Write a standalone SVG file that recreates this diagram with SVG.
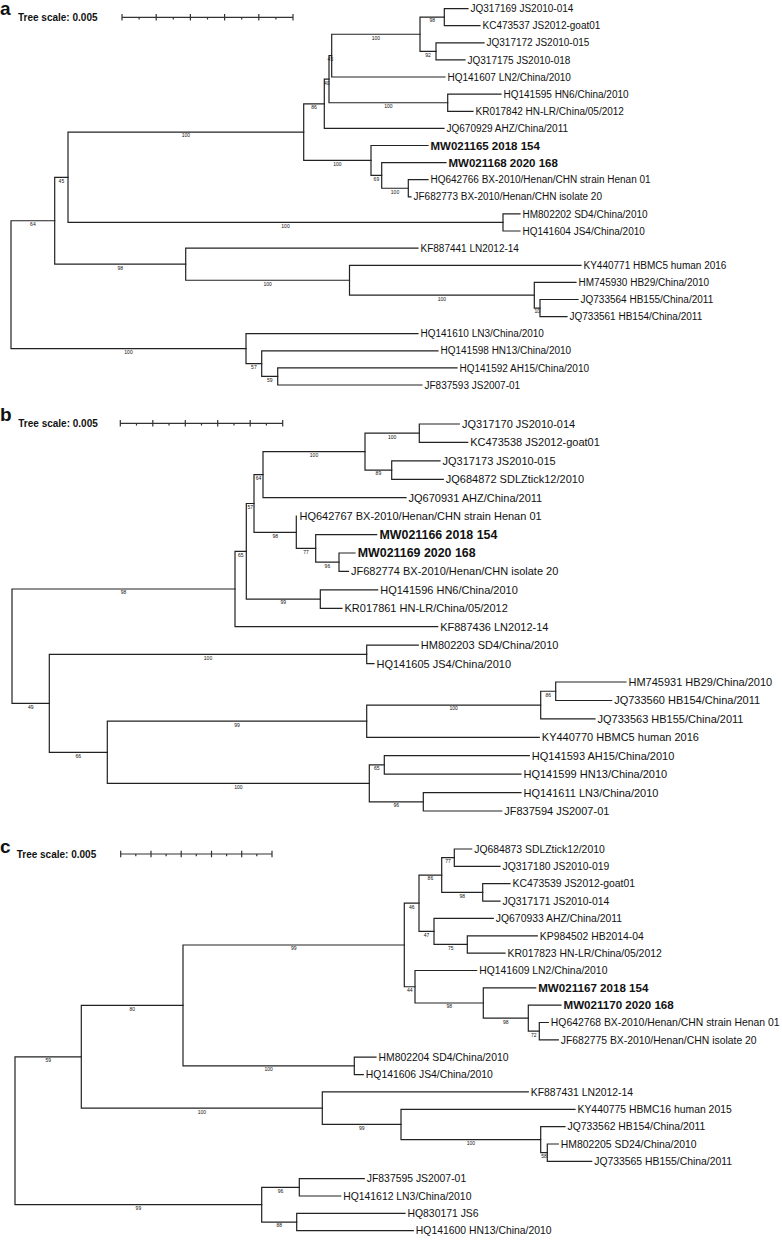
<svg xmlns="http://www.w3.org/2000/svg" width="782" height="1240" viewBox="0 0 782 1240">
<style>
.br{fill:none;stroke:#222;stroke-width:1.2;stroke-linecap:square}
.sc{fill:none;stroke:#333;stroke-width:1.2}
text{font-family:"Liberation Sans",Arial,sans-serif;fill:#111}
.pl{font-size:19px;font-weight:bold}
.ts{font-size:10px;font-weight:bold}
.bs{font-size:5px;text-anchor:middle;fill:#222}
.a{font-size:10px}.ab{font-size:11.5px;font-weight:bold}
.b{font-size:11px}.bb{font-size:12.4px;font-weight:bold}
.c{font-size:10.4px}.cb{font-size:11.6px;font-weight:bold}
</style>
<rect width="782" height="1240" fill="#fff"/>

<!-- PANEL A -->
<g id="panel-a">
<text class="pl" x="0" y="15.3">a</text>
<text class="ts" x="18" y="21">Tree scale: 0.005</text>
<path class="sc" d="M122,17.3 H293 M122,14 V20.6 M156.2,14 V20.6 M190.4,14 V20.6 M224.6,14 V20.6 M258.8,14 V20.6 M293,14 V20.6 M139.1,17.3 V19.6 M173.3,17.3 V19.6 M207.5,17.3 V19.6 M241.7,17.3 V19.6 M275.9,17.3 V19.6"/>
<g id="connectors-a" class="br">
<path d="M468,8.6 H444.3 V25.7 H480"/>
<path d="M484,42.8 H436 V59.9 H465"/>
<path d="M444.3,17.15 H420 V51.35 H436"/>
<path d="M420,34.25 H331.7 V77 H445"/>
<path d="M501,94.2 H447.7 V111.3 H473"/>
<path d="M331.7,55.6 H329 V102.75 H447.7"/>
<path d="M329,79.2 H324.3 V128.4 H444"/>
<path d="M428,179.7 H408.3 V196.8 H411"/>
<path d="M446,162.6 H381.7 V188.25 H408.3"/>
<path d="M428,145.5 H371 V175.4 H381.7"/>
<path d="M324.3,103.8 H303.7 V160.45 H371"/>
<path d="M520,213.9 H503 V231 H520"/>
<path d="M303.7,132.1 H68 V222.45 H503"/>
<path d="M578,299.5 H540 V316.6 H567"/>
<path d="M576,282.4 H534.3 V308.05 H540"/>
<path d="M581,265.3 H349.5 V295.2 H534.3"/>
<path d="M418,248.1 H185.7 V280.25 H349.5"/>
<path d="M68,177.3 H54.7 V264.2 H185.7"/>
<path d="M457,367.9 H277.7 V385 H422"/>
<path d="M438,350.8 H261.7 V376.45 H277.7"/>
<path d="M418,333.7 H246 V363.6 H261.7"/>
<path d="M54.7,220.75 H11 V348.65 H246"/>
</g>
<g id="support-a" class="bs">
<text x="432.2" y="22.4">98</text>
<text x="428" y="56.6">92</text>
<text x="375.9" y="39.5">100</text>
<text x="330.4" y="60.9">45</text>
<text x="388.4" y="108">100</text>
<text x="326.7" y="84.5">40</text>
<text x="314" y="109.1">86</text>
<text x="395" y="193.5">100</text>
<text x="376.4" y="180.7">69</text>
<text x="337.4" y="165.7">100</text>
<text x="185.9" y="137.4">100</text>
<text x="285.5" y="227.7">100</text>
<text x="61.4" y="182.6">45</text>
<text x="537.2" y="313.3">10</text>
<text x="441.9" y="300.5">100</text>
<text x="267.6" y="285.5">100</text>
<text x="120.2" y="269.5">98</text>
<text x="32.9" y="226">64</text>
<text x="269.7" y="381.7">59</text>
<text x="253.9" y="368.9">57</text>
<text x="128.5" y="353.9">100</text>
</g>
<g id="leaf-a1"><text class="a" x="470.5" y="12.2">JQ317169 JS2010-014</text></g>
<g id="leaf-a2"><text class="a" x="482.5" y="29.3">KC473537 JS2012-goat01</text></g>
<g id="leaf-a3"><text class="a" x="486.5" y="46.4">JQ317172 JS2010-015</text></g>
<g id="leaf-a4"><text class="a" x="467.5" y="63.5">JQ317175 JS2010-018</text></g>
<g id="leaf-a5"><text class="a" x="447.5" y="80.6">HQ141607 LN2/China/2010</text></g>
<g id="leaf-a6"><text class="a" x="503.5" y="97.8">HQ141595 HN6/China/2010</text></g>
<g id="leaf-a7"><text class="a" x="475.5" y="114.9">KR017842 HN-LR/China/05/2012</text></g>
<g id="leaf-a8"><text class="a" x="446.5" y="132">JQ670929 AHZ/China/2011</text></g>
<g id="leaf-a9"><text class="ab" x="430.5" y="149.6">MW021165 2018 154</text></g>
<g id="leaf-a10"><text class="ab" x="448.5" y="166.7">MW021168 2020 168</text></g>
<g id="leaf-a11"><text class="a" x="430.5" y="183.3">HQ642766 BX-2010/Henan/CHN strain Henan 01</text></g>
<g id="leaf-a12"><text class="a" x="413.5" y="200.4">JF682773 BX-2010/Henan/CHN isolate 20</text></g>
<g id="leaf-a13"><text class="a" x="522.5" y="217.5">HM802202 SD4/China/2010</text></g>
<g id="leaf-a14"><text class="a" x="522.5" y="234.6">HQ141604 JS4/China/2010</text></g>
<g id="leaf-a15"><text class="a" x="420.5" y="251.7">KF887441 LN2012-14</text></g>
<g id="leaf-a16"><text class="a" x="583.5" y="268.9">KY440771 HBMC5 human 2016</text></g>
<g id="leaf-a17"><text class="a" x="578.5" y="286">HM745930 HB29/China/2010</text></g>
<g id="leaf-a18"><text class="a" x="580.5" y="303.1">JQ733564 HB155/China/2011</text></g>
<g id="leaf-a19"><text class="a" x="569.5" y="320.2">JQ733561 HB154/China/2011</text></g>
<g id="leaf-a20"><text class="a" x="420.5" y="337.3">HQ141610 LN3/China/2010</text></g>
<g id="leaf-a21"><text class="a" x="440.5" y="354.4">HQ141598 HN13/China/2010</text></g>
<g id="leaf-a22"><text class="a" x="459.5" y="371.5">HQ141592 AH15/China/2010</text></g>
<g id="leaf-a23"><text class="a" x="424.5" y="388.6">JF837593 JS2007-01</text></g>
</g>

<!-- PANEL B -->
<g id="panel-b">
<text class="pl" x="0" y="420.7">b</text>
<text class="ts" x="18.3" y="427">Tree scale: 0.005</text>
<path class="sc" d="M120.3,423.3 H282.7 M120.3,420 V426.6 M152.8,420 V426.6 M185.3,420 V426.6 M217.7,420 V426.6 M250.2,420 V426.6 M282.7,420 V426.6 M136.5,423.3 V425.6 M169,423.3 V425.6 M201.5,423.3 V425.6 M234,423.3 V425.6 M266.4,423.3 V425.6"/>
<g id="connectors-b" class="br">
<path d="M459.3,424 H419.3 V442.4 H467.7"/>
<path d="M440,460.9 H391.7 V479.3 H443.3"/>
<path d="M419.3,433.2 H365 V470.1 H391.7"/>
<path d="M365,451.65 H263 V497.7 H406"/>
<path d="M355,553 H339 V571.4 H348.5"/>
<path d="M376.7,534.6 H315.7 V562.2 H339"/>
<path d="M296.3,516.2 V548.4 H315.7"/>
<path d="M263,474.7 H254 V532.3 H296.3"/>
<path d="M377.7,589.9 H320.3 V608.3 H342"/>
<path d="M254,503.5 H246.3 V599.1 H320.3"/>
<path d="M246.3,551.3 H235 V626.7 H437.7"/>
<path d="M418.3,645.2 H366.7 V663.6 H374"/>
<path d="M626,682 H555.7 V700.5 H611.7"/>
<path d="M555.7,691.25 H540.7 V718.9 H595"/>
<path d="M540.7,705.1 H366.7 V737.3 H539.3"/>
<path d="M529.3,755.7 H384.3 V774.2 H521"/>
<path d="M521,792.6 H423.3 V811 H501.7"/>
<path d="M384.3,764.95 H369.3 V801.8 H423.3"/>
<path d="M366.7,721.2 H107.3 V783.4 H369.3"/>
<path d="M366.7,654.4 H49.3 V752.3 H107.3"/>
<path d="M235,589 H12 V703.35 H49.3"/>
</g>
<g id="support-b" class="bs">
<text x="392.2" y="438.5">100</text>
<text x="378.4" y="475.4">89</text>
<text x="314" y="457">100</text>
<text x="258.5" y="480">64</text>
<text x="327.4" y="567.5">96</text>
<text x="306" y="553.7">77</text>
<text x="275.2" y="537.6">98</text>
<text x="250.2" y="508.8">57</text>
<text x="283.3" y="604.4">99</text>
<text x="240.7" y="556.6">65</text>
<text x="123.5" y="594.3">98</text>
<text x="208" y="659.7">100</text>
<text x="548.2" y="696.5">86</text>
<text x="453.7" y="710.4">100</text>
<text x="237" y="726.5">99</text>
<text x="376.8" y="770.2">65</text>
<text x="396.3" y="807.1">96</text>
<text x="238.3" y="788.7">100</text>
<text x="78.3" y="757.6">66</text>
<text x="30.7" y="708.6">49</text>
</g>
<g id="leaf-b1"><text class="b" x="462" y="427.9">JQ317170 JS2010-014</text></g>
<g id="leaf-b2"><text class="b" x="470.2" y="446.3">KC473538 JS2012-goat01</text></g>
<g id="leaf-b3"><text class="b" x="442.5" y="464.8">JQ317173 JS2010-015</text></g>
<g id="leaf-b4"><text class="b" x="445.8" y="483.2">JQ684872 SDLZtick12/2010</text></g>
<g id="leaf-b5"><text class="b" x="408.5" y="501.6">JQ670931 AHZ/China/2011</text></g>
<g id="leaf-b6"><text class="b" x="299.5" y="520.1">HQ642767 BX-2010/Henan/CHN strain Henan 01</text></g>
<g id="leaf-b7"><text class="bb" x="379.5" y="539">MW021166 2018 154</text></g>
<g id="leaf-b8"><text class="bb" x="357.8" y="557.4">MW021169 2020 168</text></g>
<g id="leaf-b9"><text class="b" x="351" y="575.3">JF682774 BX-2010/Henan/CHN isolate 20</text></g>
<g id="leaf-b10"><text class="b" x="380.2" y="593.8">HQ141596 HN6/China/2010</text></g>
<g id="leaf-b11"><text class="b" x="344.5" y="612.2">KR017861 HN-LR/China/05/2012</text></g>
<g id="leaf-b12"><text class="b" x="440.2" y="630.6">KF887436 LN2012-14</text></g>
<g id="leaf-b13"><text class="b" x="420.8" y="649.1">HM802203 SD4/China/2010</text></g>
<g id="leaf-b14"><text class="b" x="376.5" y="667.5">HQ141605 JS4/China/2010</text></g>
<g id="leaf-b15"><text class="b" x="628.5" y="685.9">HM745931 HB29/China/2010</text></g>
<g id="leaf-b16"><text class="b" x="614.2" y="704.4">JQ733560 HB154/China/2011</text></g>
<g id="leaf-b17"><text class="b" x="597.5" y="722.8">JQ733563 HB155/China/2011</text></g>
<g id="leaf-b18"><text class="b" x="541.8" y="741.2">KY440770 HBMC5 human 2016</text></g>
<g id="leaf-b19"><text class="b" x="531.8" y="759.6">HQ141593 AH15/China/2010</text></g>
<g id="leaf-b20"><text class="b" x="523.5" y="778.1">HQ141599 HN13/China/2010</text></g>
<g id="leaf-b21"><text class="b" x="523.5" y="796.5">HQ141611 LN3/China/2010</text></g>
<g id="leaf-b22"><text class="b" x="504.2" y="814.9">JF837594 JS2007-01</text></g>
</g>

<!-- PANEL C -->
<g id="panel-c">
<text class="pl" x="0" y="853.3">c</text>
<text class="ts" x="16.7" y="857.6">Tree scale: 0.005</text>
<path class="sc" d="M120.7,854 H272 M120.7,850.7 V857.3 M151,850.7 V857.3 M181.2,850.7 V857.3 M211.5,850.7 V857.3 M241.7,850.7 V857.3 M272,850.7 V857.3 M135.8,854 V856.3 M166.1,854 V856.3 M196.3,854 V856.3 M226.6,854 V856.3 M256.8,854 V856.3"/>
<g id="connectors-c" class="br">
<path d="M471.7,849 H454.3 V866.4 H500"/>
<path d="M510,883.7 H482.7 V901.1 H500"/>
<path d="M454.3,857.7 H441.7 V892.4 H482.7"/>
<path d="M537.3,935.8 H467.3 V953.1 H505"/>
<path d="M493.3,918.4 H434 V944.45 H467.3"/>
<path d="M441.7,875.05 H419 V931.4 H434"/>
<path d="M548.3,1022.5 H539.3 V1039.9 H558.3"/>
<path d="M561,1005.2 H528.3 V1031.2 H539.3"/>
<path d="M535.7,987.8 H483.3 V1018.2 H528.3"/>
<path d="M476.7,970.5 H415 V1003 H483.3"/>
<path d="M419,903.2 H404.3 V986.75 H415"/>
<path d="M376,1057.2 H354.3 V1074.6 H363.3"/>
<path d="M404.3,945 H183 V1065.9 H354.3"/>
<path d="M558.3,1144 H547.3 V1161.3 H591.7"/>
<path d="M565,1126.6 H540.7 V1152.65 H547.3"/>
<path d="M575,1109.3 H401 V1139.6 H540.7"/>
<path d="M528.3,1091.9 H322.3 V1124.45 H401"/>
<path d="M183,1005.45 H81.3 V1108.2 H322.3"/>
<path d="M364.3,1178.7 H299.3 V1196 H340.7"/>
<path d="M405,1213.4 H296.7 V1230.7 H413.3"/>
<path d="M299.3,1187.35 H261.7 V1222.05 H296.7"/>
<path d="M81.3,1056.8 H15 V1204.7 H261.7"/>
</g>
<g id="support-c" class="bs">
<text x="448" y="863">77</text>
<text x="462.2" y="897.7">98</text>
<text x="430.4" y="880.4">86</text>
<text x="450.7" y="949.8">75</text>
<text x="426.5" y="936.7">47</text>
<text x="411.7" y="908.5">46</text>
<text x="533.8" y="1036.5">72</text>
<text x="505.8" y="1023.5">98</text>
<text x="449.2" y="1008.3">98</text>
<text x="409.7" y="992">44</text>
<text x="293.7" y="950.3">99</text>
<text x="268.7" y="1071.2">100</text>
<text x="132.2" y="1010.7">80</text>
<text x="544" y="1158">58</text>
<text x="470.9" y="1144.9">100</text>
<text x="361.7" y="1129.7">99</text>
<text x="201.8" y="1113.5">100</text>
<text x="48.2" y="1062.1">59</text>
<text x="280.5" y="1192.6">96</text>
<text x="279.2" y="1227.3">88</text>
<text x="138.4" y="1210">99</text>
</g>
<g id="leaf-c1"><text class="c" x="474.2" y="852.7">JQ684873 SDLZtick12/2010</text></g>
<g id="leaf-c2"><text class="c" x="502.5" y="870.1">JQ317180 JS2010-019</text></g>
<g id="leaf-c3"><text class="c" x="512.5" y="887.4">KC473539 JS2012-goat01</text></g>
<g id="leaf-c4"><text class="c" x="502.5" y="904.8">JQ317171 JS2010-014</text></g>
<g id="leaf-c5"><text class="c" x="495.8" y="922.1">JQ670933 AHZ/China/2011</text></g>
<g id="leaf-c6"><text class="c" x="539.8" y="939.5">KP984502 HB2014-04</text></g>
<g id="leaf-c7"><text class="c" x="507.5" y="956.8">KR017823 HN-LR/China/05/2012</text></g>
<g id="leaf-c8"><text class="c" x="479.2" y="974.2">HQ141609 LN2/China/2010</text></g>
<g id="leaf-c9"><text class="cb" x="538.2" y="992">MW021167 2018 154</text></g>
<g id="leaf-c10"><text class="cb" x="563.5" y="1009.4">MW021170 2020 168</text></g>
<g id="leaf-c11"><text class="c" x="550.8" y="1026.2">HQ642768 BX-2010/Henan/CHN strain Henan 01</text></g>
<g id="leaf-c12"><text class="c" x="560.8" y="1043.6">JF682775 BX-2010/Henan/CHN isolate 20</text></g>
<g id="leaf-c13"><text class="c" x="378.5" y="1060.9">HM802204 SD4/China/2010</text></g>
<g id="leaf-c14"><text class="c" x="365.8" y="1078.3">HQ141606 JS4/China/2010</text></g>
<g id="leaf-c15"><text class="c" x="530.8" y="1095.6">KF887431 LN2012-14</text></g>
<g id="leaf-c16"><text class="c" x="577.5" y="1113">KY440775 HBMC16 human 2015</text></g>
<g id="leaf-c17"><text class="c" x="567.5" y="1130.3">JQ733562 HB154/China/2011</text></g>
<g id="leaf-c18"><text class="c" x="560.8" y="1147.7">HM802205 SD24/China/2010</text></g>
<g id="leaf-c19"><text class="c" x="594.2" y="1165">JQ733565 HB155/China/2011</text></g>
<g id="leaf-c20"><text class="c" x="366.8" y="1182.4">JF837595 JS2007-01</text></g>
<g id="leaf-c21"><text class="c" x="343.2" y="1199.7">HQ141612 LN3/China/2010</text></g>
<g id="leaf-c22"><text class="c" x="407.5" y="1217.1">HQ830171 JS6</text></g>
<g id="leaf-c23"><text class="c" x="415.8" y="1234.4">HQ141600 HN13/China/2010</text></g>
</g>
</svg>
